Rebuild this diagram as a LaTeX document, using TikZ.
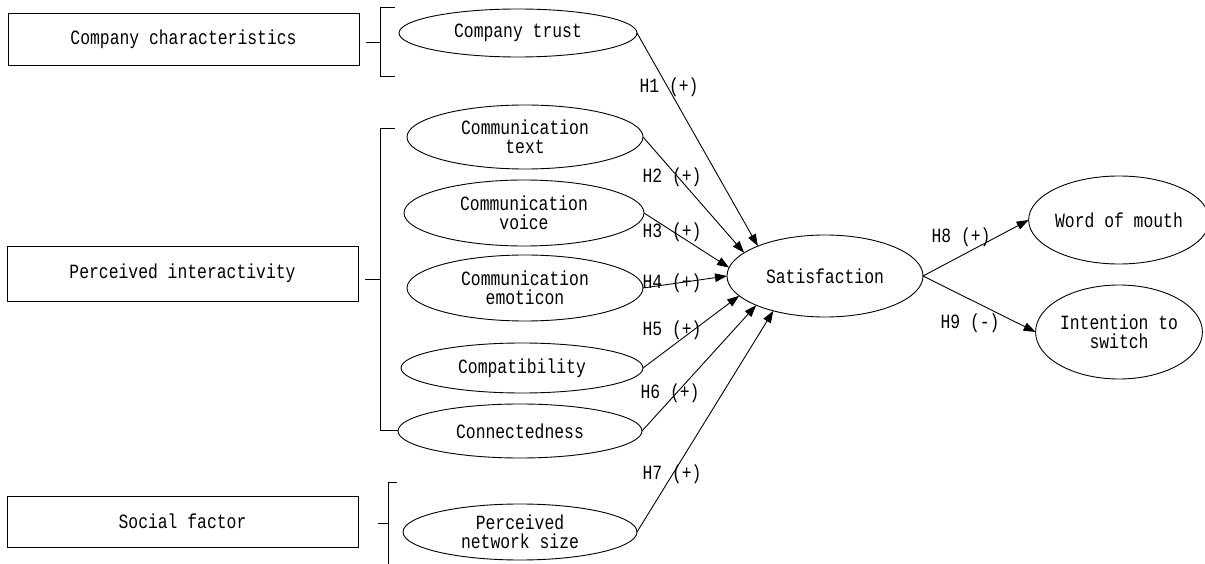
\documentclass[tikz,border=0pt]{standalone}
\usepackage{fontspec}
\newfontfamily\diagfont[FakeStretch=0.81]{Liberation Mono}
\usetikzlibrary{shapes.geometric,arrows.meta}
\begin{document}
\begin{tikzpicture}[x=1bp,y=-1bp,
  every node/.style={font=\diagfont\fontsize{20.3}{19}\selectfont, inner sep=0pt, outer sep=0pt},
  lbox/.style={draw, line width=0.9bp, minimum width=351bp},
  ell/.style={draw, line width=0.9bp, ellipse, align=center},
  brk/.style={line width=0.9bp},
  conn/.style={line width=0.9bp, -{Triangle[length=12bp,width=8.5bp]}},
  hlab/.style={fill=none}
]
\useasboundingbox (0,0) rectangle (1205,564);

% left boxes
\node[lbox, minimum height=52bp] (b1) at (183.5,39) {Company characteristics};
\node[lbox, minimum height=55bp] (b2) at (182.5,273.5) {Perceived interactivity};
\node[lbox, minimum height=51bp] (b3) at (182.5,521.5) {Social factor};

% brackets
\draw[brk] (366,42) -- (380,42);
\draw[brk] (395,7) -- (380,7) -- (380,76) -- (395,76);
\draw[brk] (365,279) -- (380,279);
\draw[brk] (395,128) -- (380,128) -- (380,430) -- (398,430);
\draw[brk] (378,523) -- (388,523);
\draw[brk] (397,482) -- (388,482) -- (388,564);

% ellipses
\node[ell, minimum width=238bp, minimum height=48bp] (ct) at (518,33) {Company trust};
\node[ell, minimum width=236bp, minimum height=64bp] (ctext) at (525,137) {Communication\\text};
\node[ell, minimum width=240bp, minimum height=66bp] (cvoice) at (524,213) {Communication\\voice};
\node[ell, minimum width=236bp, minimum height=66bp] (cemo) at (525,288) {Communication\\emoticon};
\node[ell, minimum width=242bp, minimum height=50bp] (compat) at (522,368) {Compatibility};
\node[ell, minimum width=244bp, minimum height=54bp] (connd) at (520,431) {Connectedness};
\node[ell, minimum width=234bp, minimum height=56bp] (pns) at (520,532) {Perceived\\network size};
\node[ell, minimum width=196bp, minimum height=82bp] (sat) at (825,276) {Satisfaction};
\node[ell, minimum width=160bp, minimum height=88bp] (wom) at (1119,220) {Word of mouth};
\node[ell, minimum width=160bp, minimum height=94bp] (its) at (1119,332) {Intention to\\switch};

% connectors
\draw[conn] (ct.east) -- (sat.156.7);
\draw[conn] (ctext.east) -- (sat.164.5);
\draw[conn] (cvoice.east) -- (sat.175.3);
\draw[conn] (cemo.east) -- (sat.180.6);
\draw[conn] (compat.east) -- (sat.193.4);
\draw[conn] (connd.east) -- (sat.203.9);
\draw[conn] (pns.east) -- (sat.214.5);
\draw[conn] (sat.east) -- (wom.west);
\draw[conn] (sat.east) -- (its.west);

% labels
\node[hlab] (l1) at (669,87) {H1 (+)};
\node[hlab] (l2) at (672,177) {H2 (+)};
\node[hlab] (l3) at (672,232) {H3 (+)};
\node[hlab] (l4) at (672,283) {H4 (+)};
\node[hlab] (l5) at (672,330) {H5 (+)};
\node[hlab] (l6) at (670,393) {H6 (+)};
\node[hlab] (l7) at (672,474) {H7 (+)};
\node[hlab] (l8) at (961,237) {H8 (+)};
\node[hlab] (l9) at (970,323) {H9 (-)};
\end{tikzpicture}
\end{document}
